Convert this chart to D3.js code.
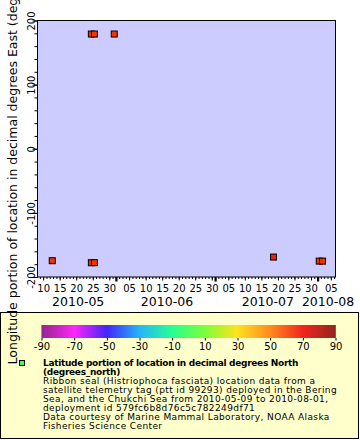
<!DOCTYPE html>
<html lang="en">
<head>
<meta charset="utf-8">
<script src="https://d3js.org/d3.v7.min.js"></script>
<style>
  body { margin: 0; background: #fff; }
  svg { display: block; font-family: "DejaVu Sans", sans-serif; }
</style>
</head>
<body>
<div id="chart"></div>
<script>
// data
var times = ["2010-05-12T18:00", "2010-05-24T14:00", "2010-05-25T12:00", "2010-05-24T14:00",
             "2010-05-25T12:00", "2010-05-31T12:00", "2010-07-18T16:00", "2010-08-01T12:00",
             "2010-08-02T12:00"];
var lons  = [-174.6, 178.9, 178.9, -177.7, -177.7, 178.9, -168.9, -175.2, -175.2];
var lats  = [61.5, 61, 61, 61.5, 61.5, 61, 65, 62, 62];

var yTicks = [-200, -100, 0, 100, 200];
var paletteStops = [-90, -70, -50, -30, -10, 10, 30, 50, 70, 90];
var paletteColors = ["#800080", "#ff00ff", "#2200ff", "#00a8ff", "#00ff88",
                     "#66ff22", "#ffdd00", "#ff7700", "#ee0000", "#800000"];

var legendTitle = ["Latitude portion of location in decimal degrees North", "(degrees_north)"];
var legendLines = ["Ribbon seal (Histriophoca fasciata) location data from a",
                   "satellite telemetry tag (ptt id 99293) deployed in the Bering",
                   "Sea, and the Chukchi Sea from 2010-05-09 to 2010-08-01,",
                   "deployment id 579fc6b8d76c5c782249df71",
                   "Data courtesy of Marine Mammal Laboratory, NOAA Alaska",
                   "Fisheries Science Center"];

var W = 360, H = 440;
var plot = {left: 37.5, top: 20.5, right: 335.5, bottom: 277};
var plain = function(d) { return String(d); };   // hyphen minus like the original

var svg = d3.select("#chart").append("svg")
  .attr("width", W).attr("height", H);

var parse = d3.timeParse("%Y-%m-%dT%H:%M");
var points = times.map(function(t, i) {
  return {t: parse(t), lon: lons[i], lat: lats[i]};
});

var x = d3.scaleTime()
  .domain([parse("2010-05-08T07:00"), parse("2010-08-06T10:00")])
  .range([plot.left, plot.right]);
var y = d3.scaleLinear().domain([-200, 200]).range([plot.bottom, plot.top]);
var color = d3.scaleLinear().domain(paletteStops).range(paletteColors).clamp(true);

// plot background
svg.append("rect")
  .attr("x", plot.left).attr("y", plot.top)
  .attr("width", plot.right - plot.left).attr("height", plot.bottom - plot.top)
  .attr("fill", "#ccccff");

// y axis: minor + major ticks
svg.append("g")
  .attr("transform", "translate(" + plot.left + ",0)")
  .call(d3.axisLeft(y).tickValues(d3.range(-200, 201, 20)).tickSize(3).tickFormat(""))
  .call(function(g) { g.select(".domain").remove(); });
var yAx = svg.append("g")
  .attr("transform", "translate(" + plot.left + ",0)")
  .call(d3.axisLeft(y).tickValues(yTicks).tickSize(5).tickPadding(0).tickFormat(plain))
  .call(function(g) { g.select(".domain").remove(); });
yAx.selectAll("text")
  .attr("x", null).attr("dy", null)
  .attr("transform", "translate(-2.5,0) rotate(-90)")
  .attr("text-anchor", "middle")
  .attr("font-size", 10).attr("font-family", "DejaVu Sans").attr("fill", "#000");

// x axis: daily ticks, labelled every 5 days, months bold
var days = d3.timeDay.range(x.domain()[0], x.domain()[1]);
svg.append("g")
  .attr("transform", "translate(0," + plot.bottom + ")")
  .call(d3.axisBottom(x).tickValues(days).tickSize(2).tickFormat(""))
  .call(function(g) { g.select(".domain").remove(); });
var fives = days.filter(function(d) { return d.getDate() % 5 == 0; });
var xAx = svg.append("g")
  .attr("transform", "translate(0," + plot.bottom + ")")
  .call(d3.axisBottom(x).tickValues(fives).tickSize(3.5).tickPadding(4).tickFormat(d3.timeFormat("%d")))
  .call(function(g) { g.select(".domain").remove(); });
xAx.selectAll("text").attr("font-size", 10).attr("font-family", "DejaVu Sans").attr("fill", "#000");
var months = d3.timeMonth.range(x.domain()[0], x.domain()[1]);
svg.append("g")
  .attr("transform", "translate(0," + plot.bottom + ")")
  .call(d3.axisBottom(x).tickValues(months).tickSize(4.5).tickFormat(""))
  .call(function(g) { g.select(".domain").remove(); })
  .selectAll("line").attr("stroke-width", 2.2);

// month labels centred over the visible part of each month
var monthStarts = [x.domain()[0]].concat(months);
svg.append("g").selectAll("text")
  .data(monthStarts)
  .join("text")
  .attr("x", function(d, i) {
    var end = i + 1 < monthStarts.length ? monthStarts[i + 1] : x.domain()[1];
    return (x(d) + x(end)) / 2 + 1.5;
  })
  .attr("y", 306)
  .attr("text-anchor", "middle")
  .attr("font-size", 12.5)
  .text(function(d) { return d3.timeFormat("%Y-%m")(d); });

// markers
svg.append("g").selectAll("rect")
  .data(points)
  .join("rect")
  .attr("x", function(d) { return x(d.t) - 3; })
  .attr("y", function(d) { return y(d.lon) - 3; })
  .attr("width", 6).attr("height", 6)
  .attr("fill", function(d) { return color(d.lat); })
  .attr("stroke", "#000").attr("stroke-width", 1);

// plot frame
svg.append("rect")
  .attr("x", plot.left).attr("y", plot.top)
  .attr("width", plot.right - plot.left).attr("height", plot.bottom - plot.top)
  .attr("fill", "none").attr("stroke", "#000").attr("stroke-width", 1);

// legend box
svg.append("rect")
  .attr("x", 0.5).attr("y", 312.5).attr("width", 358).attr("height", 126)
  .attr("fill", "#ffffcc").attr("stroke", "#000");

// colour bar
var cb = d3.scaleLinear().domain([-90, 90]).range([41.5, 335.5]);
svg.append("g").selectAll("rect")
  .data(d3.range(cb.range()[0], cb.range()[1], 1))
  .join("rect")
  .attr("x", function(d) { return d; })
  .attr("y", 325).attr("width", 1.2).attr("height", 13)
  .attr("fill", function(d) { return color(cb.invert(d + 0.5)); });
var cbAx = svg.append("g")
  .attr("transform", "translate(0,338)")
  .call(d3.axisBottom(cb).tickValues(d3.range(-90, 91, 20)).tickSize(2.5).tickPadding(2).tickFormat(plain))
  .call(function(g) { g.select(".domain").remove(); });
cbAx.selectAll("text").attr("font-size", 10).attr("font-family", "DejaVu Sans").attr("fill", "#000");

// legend marker + text
svg.append("rect")
  .attr("x", 19.5).attr("y", 360.5).attr("width", 5).attr("height", 5)
  .attr("fill", "#44ff44").attr("stroke", "#000");
var lt = svg.append("g").attr("font-size", 9);
legendTitle.concat(legendLines).forEach(function(s, i) {
  lt.append("text")
    .attr("x", 43).attr("y", 366 + i * 9)
    .attr("font-weight", i < 2 ? "bold" : "normal")
    .attr("letter-spacing", i < 2 ? -0.3 : 0.38)
    .text(s);
});

// y axis title (runs off the top, as in the original)
svg.append("text")
  .attr("transform", "translate(17," + ((plot.top + plot.bottom) / 2) + ") rotate(-90)")
  .attr("text-anchor", "middle")
  .attr("font-size", 12.5)
  .text("Longitude portion of location in decimal degrees East (degrees_east)");
</script>
</body>
</html>
